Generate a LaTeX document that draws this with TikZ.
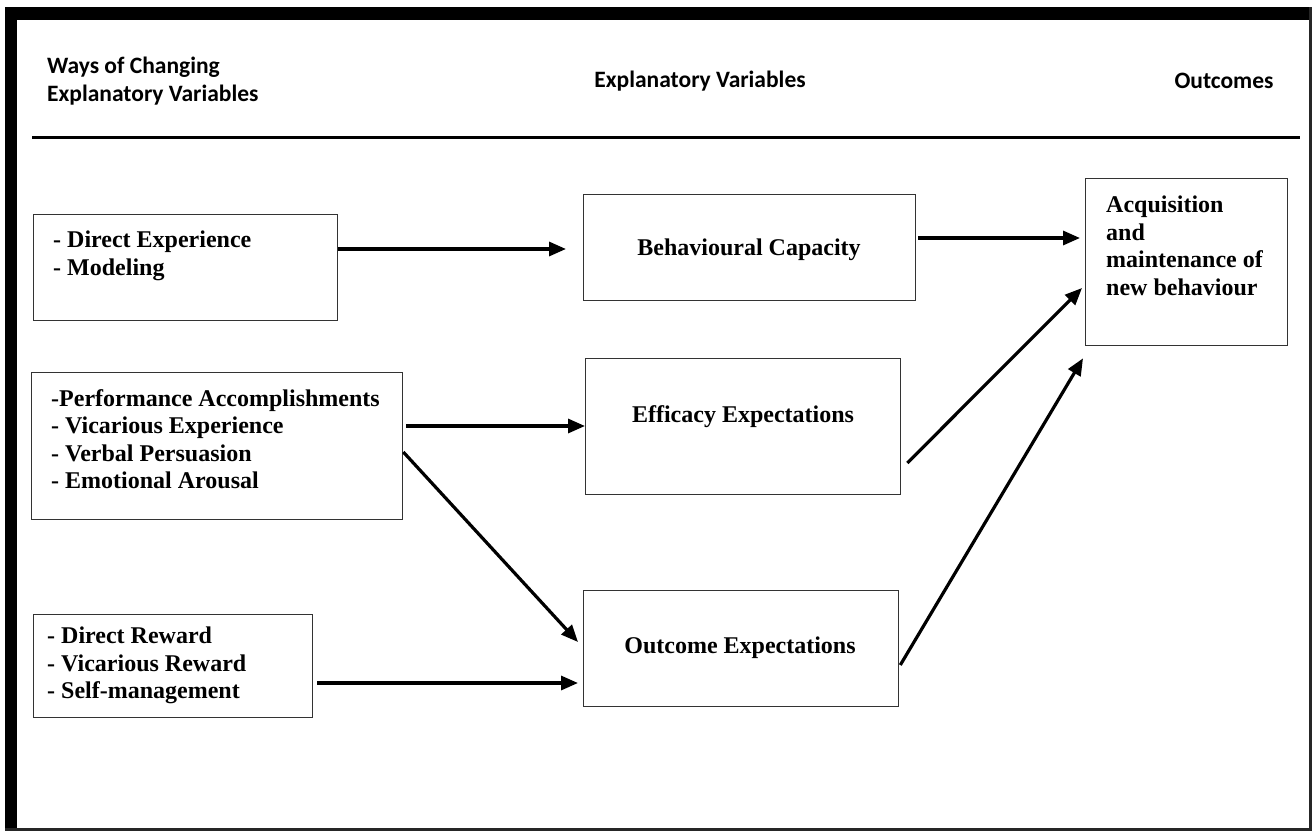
\documentclass[tikz,border=0pt]{standalone}
\usepackage{fontspec}
\setmainfont{Liberation Serif}
\newfontfamily\hdrfont{Carlito}
\usetikzlibrary{arrows.meta}
\tikzset{
  box/.style={draw=black!80, line width=1.3pt, rectangle, inner sep=0pt, anchor=north west},
  txt/.style={font=\fontsize{24pt}{27.5pt}\selectfont\bfseries, align=left, inner sep=0pt},
  hdr/.style={font=\hdrfont\fontsize{23.5pt}{28pt}\selectfont\bfseries, align=left, inner sep=0pt},
  arr/.style={line width=3.2pt, -{Triangle[length=17pt,width=14pt]}},
}
\begin{document}
\begin{tikzpicture}[x=1pt,y=-1pt]
\useasboundingbox (0,0) rectangle (1313,832);
% frame
\fill[black] (5,7) rectangle (17,829);
\fill[black] (5,7) rectangle (1311,20);
\fill[black!85] (1308.5,7) rectangle (1311.5,831);
\fill[black!85] (5,827.5) rectangle (1311.5,831);
% header rule
\draw[line width=3pt] (32,137) -- (1300,137);
% headers
\node[hdr, anchor=west] (h1) at (47,81) {Ways of Changing\\Explanatory Variables};
\node[hdr, anchor=center] (h2) at (700,81) {Explanatory Variables};
\node[hdr, anchor=center] (h3) at (1224,81) {Outcomes};
% boxes
\node[box, minimum width=304pt, minimum height=106pt] (b1) at (33,214) {};
\node[box, minimum width=371pt, minimum height=147pt] (b2) at (31,372) {};
\node[box, minimum width=279pt, minimum height=103pt] (b3) at (33,614) {};
\node[box, minimum width=332pt, minimum height=106pt] (bc) at (583,194) {};
\node[box, minimum width=315pt, minimum height=136pt] (eff) at (585,358) {};
\node[box, minimum width=315pt, minimum height=116pt] (oe) at (583,590) {};
\node[box, minimum width=202pt, minimum height=167pt] (acq) at (1085,178) {};
% texts
\node[txt, anchor=north west] (t1) at (53,231) {- Direct Experience\\- Modeling};
\node[txt, anchor=north west] (t2) at (51,389) {-Performance Accomplishments\\- Vicarious Experience\\- Verbal Persuasion\\- Emotional Arousal};
\node[txt, anchor=north west] (t3) at (47,627) {- Direct Reward\\- Vicarious Reward\\- Self-management};
\node[txt] (tbc) at (749,250) {Behavioural Capacity};
\node[txt] (teff) at (743,417) {Efficacy Expectations};
\node[txt] (toe) at (740,648) {Outcome Expectations};
\node[txt, anchor=north west] (tacq) at (1106,196) {Acquisition\\and\\maintenance of\\new behaviour};
% arrows
\draw[arr] ([yshift=-35pt]b1.north east) -- ([xshift=-17pt,yshift=-55pt]bc.north west);
\draw[arr] ([xshift=2pt,yshift=-44pt]bc.north east) -- ([xshift=-5pt,yshift=-60pt]acq.north west);
\draw[arr] ([xshift=3pt,yshift=-54pt]b2.north east) -- ([yshift=-68pt]eff.north west);
\draw[arr] ([yshift=-80pt]b2.north east) -- ([xshift=-5pt,yshift=-52pt]oe.north west);
\draw[arr] ([xshift=4pt,yshift=-69pt]b3.north east) -- ([xshift=-5pt,yshift=-93pt]oe.north west);
\draw[arr] ([xshift=6pt,yshift=-105pt]eff.north east) -- ([xshift=-3pt,yshift=-110pt]acq.north west);
\draw[arr] ([xshift=1pt,yshift=-75pt]oe.north east) -- ([xshift=-2pt,yshift=-12pt]acq.south west);
\end{tikzpicture}
\end{document}
